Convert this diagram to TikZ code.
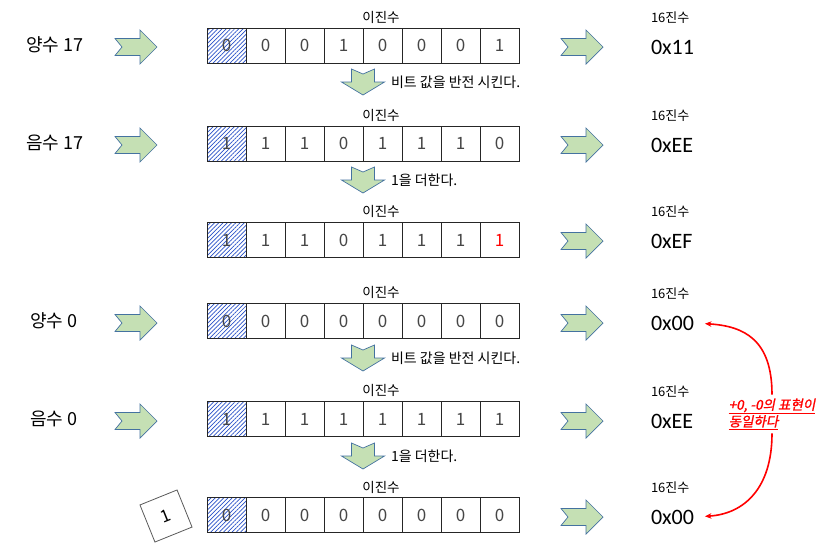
\documentclass[tikz,border=0pt]{standalone}
\usepackage{fontspec}
\setmainfont{Noto Sans CJK KR}
\newfontfamily\hexfont{Carlito}
\newfontfamily\notefont[FakeSlant=0.2,FakeBold=1.2]{Noto Sans CJK KR}
\usetikzlibrary{arrows.meta,patterns.meta}

\definecolor{arrowgreen}{RGB}{197,224,180}
\definecolor{arrowblue}{RGB}{68,114,160}
\definecolor{digitgray}{RGB}{70,70,70}
\definecolor{hatchblue}{RGB}{40,80,200}

\begin{document}
\begin{tikzpicture}[
x=1pt,
y=-1pt,
every node/.style={inner sep=0pt,outer sep=0pt},
cell/.style={rectangle,draw=black!85,line width=0.8pt,minimum width=39pt,minimum height=35pt,font=\fontsize{17}{17}\selectfont,text=digitgray},
signcell/.style={cell,pattern={Lines[angle=45,distance=3pt,line width=0.7pt]},pattern color=hatchblue},
binlbl/.style={font=\fontsize{13.5}{13.5}\selectfont},
numlbl/.style={font=\fontsize{18}{18}\selectfont},
hexhead/.style={anchor=west,font=\fontsize{13}{13}\selectfont},
hexval/.style={anchor=west,font=\hexfont\fontsize{22}{22}\selectfont},
steplbl/.style={anchor=west,font=\fontsize{14}{14}\selectfont},
onebox/.style={rectangle,draw=black!65,line width=0.8pt,minimum size=40pt,rotate=22,font=\fontsize{17}{17}\selectfont},
notelbl/.style={align=left,text=red,inner ysep=4pt,font=\notefont\fontsize{13.5}{15.5}\selectfont},
redarr/.style={-{Stealth[length=6.5pt,width=5.5pt]},red,line width=1.6pt},
blockarrow/.style={draw=arrowblue,fill=arrowgreen,line width=0.7pt,line join=miter},
rightblock/.pic={\draw[blockarrow] (-21,-8.5) -- (4,-8.5) -- (4,-17) -- (21,0) -- (4,17) -- (4,8.5) -- (-21,8.5) -- (-14,0) -- cycle;},
downblock/.pic={\draw[blockarrow] (-11.5,-13) -- (0,-8) -- (11.5,-13) -- (11.5,0) -- (21.5,0) -- (0,13) -- (-21.5,0) -- (-11.5,0) -- cycle;}
]
\useasboundingbox (0,0) rectangle (836,552);

% left labels
\node[numlbl] (pos17) at (55,45) {양수 17};
\node[numlbl] (neg17) at (55,143) {음수 17};
\node[numlbl] (pos0) at (54,321) {양수 0};
\node[numlbl] (neg0) at (54,419) {음수 0};
\node[onebox] (carry) at (166,516) {1};

\pic (inA) at (136,47) {rightblock};
\pic (inB) at (136,145) {rightblock};
\pic (inD) at (136,323) {rightblock};
\pic (inE) at (136,421) {rightblock};

% binary rows
\node[binlbl] (binA) at (381,17) {이진수};
\node[signcell] (a1) at (226.5,45.5) {0};
\foreach \b [count=\i from 2] in {0,0,1,0,0,0,1}
  \node[cell] (a\i) at ({187.5+39*\i},45.5) {\b};

\pic (flipA) at (363,82) {downblock};
\node[steplbl] (flipAtxt) at (391,82) {비트 값을 반전 시킨다.};

\node[binlbl] (binB) at (381,115) {이진수};
\node[signcell] (b1) at (226.5,143.5) {1};
\foreach \b [count=\i from 2] in {1,1,0,1,1,1,0}
  \node[cell] (b\i) at ({187.5+39*\i},143.5) {\b};

\pic (addB) at (363,180) {downblock};
\node[steplbl] (addBtxt) at (391,180) {1을 더한다.};

\node[binlbl] (binC) at (381,211) {이진수};
\node[signcell] (c1) at (226.5,240) {1};
\foreach \b [count=\i from 2] in {1,1,0,1,1,1}
  \node[cell] (c\i) at ({187.5+39*\i},240) {\b};
\node[cell,text=red] (c8) at (499.5,240) {1};

\node[binlbl] (binD) at (381,292) {이진수};
\node[signcell] (d1) at (226.5,321) {0};
\foreach \b [count=\i from 2] in {0,0,0,0,0,0,0}
  \node[cell] (d\i) at ({187.5+39*\i},321) {\b};

\pic (flipD) at (363,358) {downblock};
\node[steplbl] (flipDtxt) at (391,358) {비트 값을 반전 시킨다.};

\node[binlbl] (binE) at (381,390) {이진수};
\node[signcell] (e1) at (226.5,419) {1};
\foreach \b [count=\i from 2] in {1,1,1,1,1,1,1}
  \node[cell] (e\i) at ({187.5+39*\i},419) {\b};

\pic (addE) at (363,456) {downblock};
\node[steplbl] (addEtxt) at (391,456) {1을 더한다.};

\node[binlbl] (binF) at (381,487) {이진수};
\node[signcell] (f1) at (226.5,515) {0};
\foreach \b [count=\i from 2] in {0,0,0,0,0,0,0}
  \node[cell] (f\i) at ({187.5+39*\i},515) {\b};

% hex column
\pic (outA) at (582,47) {rightblock};
\pic (outB) at (582,145) {rightblock};
\pic (outC) at (582,241) {rightblock};
\pic (outD) at (582,323) {rightblock};
\pic (outE) at (582,421) {rightblock};
\pic (outF) at (582,517) {rightblock};

\node[hexhead] (hexheadA) at (651,18) {16진수};
\node[hexval] (hexA) at (651,47) {0x11};
\node[hexhead] (hexheadB) at (651,116) {16진수};
\node[hexval] (hexB) at (651,145) {0xEE};
\node[hexhead] (hexheadC) at (651,212) {16진수};
\node[hexval] (hexC) at (651,241) {0xEF};
\node[hexhead] (hexheadD) at (651,294) {16진수};
\node[hexval] (hexD) at (651,323) {0x00};
\node[hexhead] (hexheadE) at (651,392) {16진수};
\node[hexval] (hexE) at (651,421) {0xEE};
\node[hexhead] (hexheadF) at (651,488) {16진수};
\node[hexval] (hexF) at (651,517) {0x00};

% same representation note
\node[notelbl] (same) at (772,414) {\underline{+0, -0의 표현이}\\\underline{동일하다}};
\draw[redarr,shorten >=11pt] (same.north) .. controls +(0,-55) and +(50,3) .. (hexD.east);
\draw[redarr,shorten >=11pt] (same.south) .. controls +(0,55) and +(50,-3) .. (hexF.east);
\end{tikzpicture}
\end{document}
